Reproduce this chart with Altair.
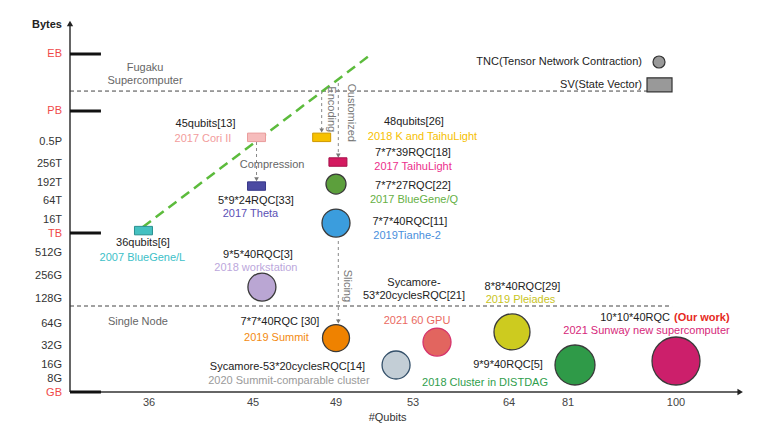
import altair as alt
import pandas as pd

FONT = "Liberation Sans"
FS = 11

# ----------------------------- axes -----------------------------
qubit_ticks = [36, 45, 49, 53, 64, 81, 100]
mem_labels = ["GB", "8G", "16G", "32G", "64G", "128G", "256G", "512G",
              "TB", "16T", "64T", "192T", "256T", "0.5P", "PB", "EB"]
mem_levels = list(range(len(mem_labels)))
# where each memory label sits (nudged slightly where labels are crowded)
mem_label_pos = [-0.05, 1.05, 2, 3, 4, 5, 6, 7, 7.97, 9.05, 10, 11, 12, 13, 14, 15]
major_labels = ["GB", "TB", "PB", "EB"]

# ------------------- TNC results (circle markers) -------------------
tnc_names = ["BlueGeneQ", "Tianhe2", "workstation", "Summit", "GPU60",
             "SummitCluster", "Pleiades", "DISTDAG", "Sunway"]
tnc_qubits = [49.0, 49.0, 45.43, 49.0, 55.75, 52.12, 64.86, 82.23, 100.0]
tnc_level = [10.94, 8.83, 5.52, 3.36, 3.18, 2.0, 3.64, 2.0, 2.21]
tnc_diam = [20, 28, 28, 27, 28, 28, 36, 40, 48]

# ------------------- SV results (rectangle markers) -------------------
sv_names = ["BlueGeneL", "CoriII", "Theta", "K", "TaihuLight"]
sv_qubits = [35.58, 45.17, 45.17, 48.31, 49.1]
sv_level = [8.2, 13.15, 10.83, 13.15, 12.09]

# ------------------- reference labels (black) -------------------
ref_text = ["45qubits[13]", "5*9*24RQC[33]", "36qubits[6]", "48qubits[26]",
            "7*7*39RQC[18]", "7*7*27RQC[22]", "7*7*40RQC[11]", "9*5*40RQC[3]",
            "7*7*40RQC [30]", "Sycamore-", "53*20cyclesRQC[21]",
            "Sycamore-53*20cyclesRQC[14]", "8*8*40RQC[29]", "9*9*40RQC[5]"]
ref_q = [40.89, 45.14, 35.54, 53.11, 53.0, 53.0, 52.84, 45.24,
         46.3, 53.11, 53.11, 46.66, 67.89, 63.89]
ref_lvl = [13.58, 10.0, 7.5, 13.65, 12.5, 10.83, 8.92, 6.913,
           4.08, 5.674, 5.109, 1.87, 5.543, 2.0]

# ------------------- system labels (coloured) -------------------
sys_text = ["2017 Cori II", "2017 Theta", "2007 BlueGene/L", "2018 K and TaihuLight",
            "2017 TaihuLight", "2017 BlueGene/Q", "2019Tianhe-2", "2018 workstation",
            "2019 Summit", "2021 60 GPU", "2020 Summit-comparable cluster",
            "2019 Pleiades", "2018 Cluster in DISTDAG", "2021 Sunway new supercomputer"]
sys_key = ["CoriII", "Theta", "BlueGeneL", "K", "TaihuLight", "BlueGeneQ", "Tianhe2",
           "workstation", "Summit", "GPU60", "SummitCluster", "Pleiades", "DISTDAG", "Sunway"]
sys_q = [40.67, 44.78, 35.5, 54.09, 53.0, 53.11, 52.69, 45.14,
         46.13, 53.46, 46.73, 67.31, 61.25, 94.81]
sys_lvl = [13.1, 9.35, 6.78, 13.16, 11.84, 10.06, 7.85, 6.348,
           3.36, 4.12, 0.92, 4.98, 0.75, 3.68]

# ------------------- annotations -------------------
note_text = ["Fugaku", "Supercomputer", "Single Node", "Compression"]
note_q = [35.7, 35.7, 35.16, 45.92]
note_lvl = [14.75, 14.53, 4.08, 11.95]

vnote_text = ["Encoding", "Customized", "Slicing"]
vnote_q = [48.76, 49.78, 49.57]
vnote_lvl = [14.03, 13.94, 5.57]

# technique arrows (vertical): qubit position, start level, end level
arrow_q = [45.17, 48.31, 49.12, 49.12]
arrow_from = [13.0, 14.35, 14.49, 7.6]
arrow_to = [11.2, 13.37, 12.38, 4.1]

# memory boundary lines: Fugaku, single node
bound_lvl = [14.35, 4.72]
bound_end = [94.9, 99.3]

# trend line of SV simulations
trend_q = [35.54, 50.77]
trend_lvl = [8.5, 14.98]

# ------------------- styles -------------------
fill_of = {
    "BlueGeneQ": "#5c9f3c", "Tianhe2": "#3b9ddd", "workstation": "#baa6d3",
    "Summit": "#ef8200", "GPU60": "#e2655f", "SummitCluster": "#c3ced6",
    "Pleiades": "#cdcb1f", "DISTDAG": "#2f9a48", "Sunway": "#cc1f6b",
    "BlueGeneL": "#45c1c1", "CoriII": "#f6bcbc", "Theta": "#4b4aa2",
    "K": "#f7c100", "TaihuLight": "#d41a60",
}
stroke_of = {
    "GPU60": "#d6336c", "SummitCluster": "#34506a", "BlueGeneL": "#2a9090",
    "CoriII": "#ea9c9c", "Theta": "#38388a", "K": "#d09a00", "TaihuLight": "#a5104a",
}
text_of = {
    "CoriII": "#f29c9c", "Theta": "#5b50b5", "BlueGeneL": "#3dbfc8", "K": "#f6c000",
    "TaihuLight": "#ec2f8c", "BlueGeneQ": "#66b045", "Tianhe2": "#4a8fdc",
    "workstation": "#bca7dc", "Summit": "#f38a10", "GPU60": "#ea6a62",
    "SummitCluster": "#9a9a9a", "Pleiades": "#c9c41c", "DISTDAG": "#2f9e4c",
    "Sunway": "#d6287a",
}

XD = [30, 36, 45, 49, 53, 64, 81, 100, 110]
XR = [0, 79, 183, 266, 343, 439, 498, 606, 675]
YD = list(range(17))
YR = [377, 365, 350, 331, 309, 284, 261, 238, 218, 206, 186, 168, 149, 127, 96, 39, 7]
xs = alt.Scale(domain=XD, range=XR)
ys = alt.Scale(domain=YD, range=YR)


def X(f="x"):
    return alt.X(f"{f}:Q", scale=xs, axis=None)


def Y(f="y"):
    return alt.Y(f"{f}:Q", scale=ys, axis=None)


def text_mark(**kw):
    base = dict(baseline="middle", fontSize=FS, font=FONT)
    base.update(kw)
    return base


RECT = "M-1,-0.47L1,-0.47L1,0.47L-1,0.47Z"
SVRECT = "M-1,-0.56L1,-0.56L1,0.56L-1,0.56Z"

layers = []

# boundary dashed lines
bdf = pd.DataFrame({"x": [30] * len(bound_lvl), "x2": bound_end, "y": bound_lvl})
layers.append(alt.Chart(bdf).mark_rule(strokeDash=[4, 3], color="#444", strokeWidth=1)
              .encode(x=X(), x2="x2:Q", y=Y()))

# green trend
tdf = pd.DataFrame({"x": [trend_q[0]], "x2": [trend_q[1]], "y": [trend_lvl[0]], "y2": [trend_lvl[1]]})
layers.append(alt.Chart(tdf).mark_rule(strokeDash=[10, 6], color="#5cbb3c", strokeWidth=2.5)
              .encode(x=X(), x2="x2:Q", y=Y(), y2="y2:Q"))

# technique arrows
adf = pd.DataFrame({"x": arrow_q, "y": arrow_from, "y2": arrow_to})
layers.append(alt.Chart(adf).mark_rule(strokeDash=[3, 3], color="#888", strokeWidth=1)
              .encode(x=X(), y=Y(), y2="y2:Q"))
ahd = pd.DataFrame({"x": arrow_q, "y": arrow_to})
layers.append(alt.Chart(ahd).mark_point(shape="triangle-down", filled=True, size=22,
                                        color="#777", opacity=1)
              .encode(x=X(), y=Y()))

# axes
ax = pd.DataFrame({"x": [30], "y": [0], "y2": [15.9]})
layers.append(alt.Chart(ax).mark_rule(color="#333", strokeWidth=1.5)
              .encode(x=X(), y=Y(), y2="y2:Q"))
axx = pd.DataFrame({"x": [30], "x2": [109], "y": [0]})
layers.append(alt.Chart(axx).mark_rule(color="#333", strokeWidth=1.5)
              .encode(x=X(), x2="x2:Q", y=Y()))
layers.append(alt.Chart(pd.DataFrame({"x": [30], "y": [15.95]}))
              .mark_point(shape="triangle-up", filled=True, size=40, color="#222", opacity=1)
              .encode(x=X(), y=Y()))
layers.append(alt.Chart(pd.DataFrame({"x": [109.3], "y": [0]}))
              .mark_point(shape="triangle-right", filled=True, size=40, color="#222", opacity=1)
              .encode(x=X(), y=Y()))

# major ticks
mdf = pd.DataFrame({"x": 30, "x2": 32.35,
                    "y": [mem_levels[mem_labels.index(m)] for m in major_labels]})
layers.append(alt.Chart(mdf).mark_rule(color="#111", strokeWidth=3)
              .encode(x=X(), x2="x2:Q", y=Y()))

# y labels
ydf = pd.DataFrame({"x": 30, "y": mem_label_pos, "text": mem_labels,
                    "color": ["#f04848" if m in major_labels else "#333" for m in mem_labels]})
layers.append(alt.Chart(ydf).mark_text(**text_mark(align="right", dx=-8, fontSize=11))
              .encode(x=X(), y=Y(), text="text:N", color=alt.Color("color:N", scale=None)))
layers.append(alt.Chart(pd.DataFrame({"x": [30], "y": [15.91], "text": ["Bytes"]}))
              .mark_text(**text_mark(align="right", dx=-8, fontWeight="bold", color="#222"))
              .encode(x=X(), y=Y(), text="text:N"))

# x labels
xdf = pd.DataFrame({"x": qubit_ticks, "y": 0, "text": [str(q) for q in qubit_ticks]})
layers.append(alt.Chart(xdf).mark_text(**text_mark(dy=11, color="#444"))
              .encode(x=X(), y=Y(), text="text:N"))
layers.append(alt.Chart(pd.DataFrame({"x": [51.68], "y": [0], "text": ["#Qubits"]}))
              .mark_text(**text_mark(dy=26, color="#333"))
              .encode(x=X(), y=Y(), text="text:N"))

# SV rectangles
sdf = pd.DataFrame({"x": sv_qubits, "y": sv_level,
                    "fill": [fill_of[n] for n in sv_names],
                    "stroke": [stroke_of.get(n, "#444") for n in sv_names]})
layers.append(alt.Chart(sdf).mark_point(shape=RECT, filled=True, size=324, strokeWidth=1, opacity=1)
              .encode(x=X(), y=Y(), fill=alt.Fill("fill:N", scale=None),
                      stroke=alt.Stroke("stroke:N", scale=None)))

# TNC circles
cdf = pd.DataFrame({"x": tnc_qubits, "y": tnc_level,
                    "size": [d * d for d in tnc_diam],
                    "fill": [fill_of[n] for n in tnc_names],
                    "stroke": [stroke_of.get(n, "#3a3a3a") for n in tnc_names]})
layers.append(alt.Chart(cdf).mark_point(shape="circle", filled=True, strokeWidth=1.3, opacity=1)
              .encode(x=X(), y=Y(), size=alt.Size("size:Q", scale=None),
                      fill=alt.Fill("fill:N", scale=None),
                      stroke=alt.Stroke("stroke:N", scale=None)))

# legend
layers.append(alt.Chart(pd.DataFrame({"x": [97.01], "y": [14.86]}))
              .mark_point(shape="circle", filled=True, size=144, fill="#999", stroke="#333",
                          strokeWidth=1.2, opacity=1)
              .encode(x=X(), y=Y()))
layers.append(alt.Chart(pd.DataFrame({"x": [97.1], "y": [14.46]}))
              .mark_point(shape=SVRECT, filled=True, size=625, fill="#999", stroke="#333",
                          strokeWidth=1.2, opacity=1)
              .encode(x=X(), y=Y()))
ldf = pd.DataFrame({"x": [94.02, 94.02], "y": [14.86, 14.46],
                    "text": ["TNC(Tensor Network Contraction)", "SV(State Vector)"]})
layers.append(alt.Chart(ldf).mark_text(**text_mark(align="right", color="#222"))
              .encode(x=X(), y=Y(), text="text:N"))

# reference labels
rdf = pd.DataFrame({"x": ref_q, "y": ref_lvl, "text": ref_text})
layers.append(alt.Chart(rdf).mark_text(**text_mark(color="#222"))
              .encode(x=X(), y=Y(), text="text:N"))
# our work
odf = pd.DataFrame({"x": [98.94], "y": [4.24], "text": ["10*10*40RQC"]})
layers.append(alt.Chart(odf).mark_text(**text_mark(align="right", color="#222"))
              .encode(x=X(), y=Y(), text="text:N"))
owdf = pd.DataFrame({"x": [99.65], "y": [4.24], "text": ["(Our work)"]})
layers.append(alt.Chart(owdf).mark_text(**text_mark(align="left", fontWeight="bold", color="#e62a1e"))
              .encode(x=X(), y=Y(), text="text:N"))

# system labels
ssdf = pd.DataFrame({"x": sys_q, "y": sys_lvl, "text": sys_text,
                     "color": [text_of[k] for k in sys_key]})
layers.append(alt.Chart(ssdf).mark_text(**text_mark())
              .encode(x=X(), y=Y(), text="text:N", color=alt.Color("color:N", scale=None)))

# notes
ndf = pd.DataFrame({"x": note_q, "y": note_lvl, "text": note_text})
layers.append(alt.Chart(ndf).mark_text(**text_mark(color="#666"))
              .encode(x=X(), y=Y(), text="text:N"))
vdf = pd.DataFrame({"x": vnote_q, "y": vnote_lvl, "text": vnote_text})
layers.append(alt.Chart(vdf).mark_text(**text_mark(color="#777", angle=90))
              .encode(x=X(), y=Y(), text="text:N"))

chart = alt.layer(*layers).properties(
    width=675, height=377,
    autosize=alt.AutoSizeParams(type="none"),
    padding={"left": 62, "top": 7, "right": 15, "bottom": 40},
).configure_view(stroke=None)

chart.save("out.html", embed_options={"renderer": "svg", "actions": False})
